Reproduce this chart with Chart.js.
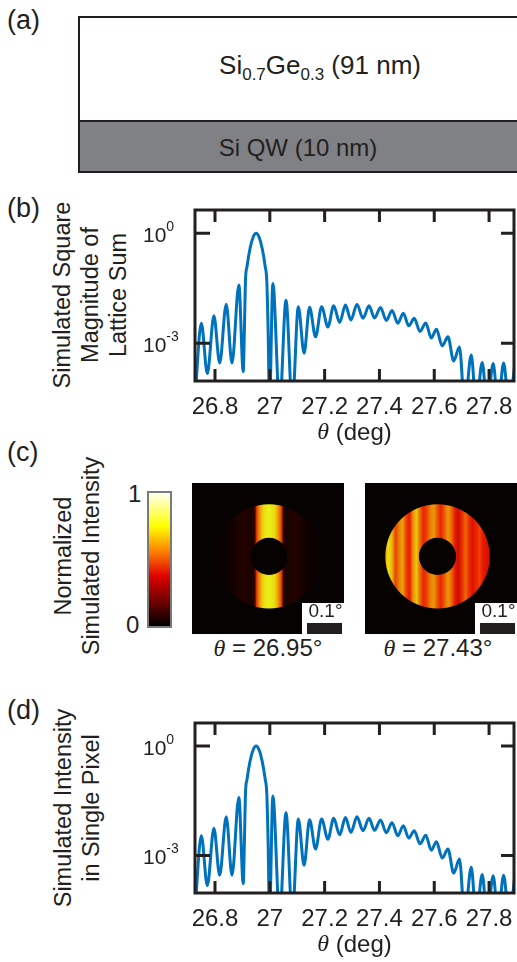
<!DOCTYPE html>
<html>
<head>
<meta charset="utf-8">
<script src="https://cdn.jsdelivr.net/npm/chart.js@4.4.0/dist/chart.umd.min.js"></script>
<style>
body { margin: 0; width: 517px; height: 962px; position: relative; overflow: hidden; background: #fff;
       font-family: "Liberation Sans", Arial, sans-serif; color: #231f20; }
.abs { position: absolute; }
.plab { position: absolute; font-size: 27px; line-height: 30px; }
.ylab { position: absolute; transform: rotate(-90deg); text-align: center; white-space: nowrap;
        font-size: 23.5px; line-height: 28px; }
.th { font-family: "Liberation Serif", serif; font-style: italic; }
.center { position: absolute; text-align: center; white-space: nowrap; }
sub { font-size: 17px; vertical-align: -6px; line-height: 0; }
</style>
</head>
<body>

<!-- (a) layer stack -->
<div class="plab" style="left:7px;top:5px">(a)</div>
<div class="abs" style="left:78px;top:16px;width:470px;height:153px;border:2px solid #231f20;">
  <div style="height:102px;border-bottom:2px solid #231f20;background:#fff"></div>
  <div style="height:49px;background:#808184"></div>
</div>
<div class="center" style="left:170px;width:300px;top:51px;font-size:26px;line-height:28px">Si<sub>0.7</sub>Ge<sub>0.3</sub> (91 nm)</div>
<div class="center" style="left:148px;width:300px;top:134px;font-size:24px;line-height:28px">Si QW (10 nm)</div>

<!-- (b) -->
<div class="plab" style="left:7px;top:193px">(b)</div>
<div class="ylab" style="left:-40px;top:253px;width:260px;height:84px">Simulated Square<br>Magnitude of<br>Lattice Sum</div>
<canvas id="chartB" class="abs" style="left:130px;top:195px" width="387" height="250"></canvas>

<!-- (c) -->
<div class="plab" style="left:7px;top:437px">(c)</div>
<div class="ylab" style="left:-53px;top:528px;width:260px;height:56px">Normalized<br>Simulated Intensity</div>
<div class="abs" style="left:128px;top:480px;font-size:24px">1</div>
<div class="abs" style="left:126px;top:611px;font-size:24px">0</div>
<div class="abs" style="left:147px;top:491px;width:21px;height:133px;border:2px solid #7a7a7a;
  background:linear-gradient(to top,#000 0%,#e00000 37.5%,#ff8000 56%,#ffff00 75%,#fffff0 100%)"></div>
<canvas id="img1" class="abs" style="left:192px;top:483px" width="152" height="151"></canvas>
<canvas id="img2" class="abs" style="left:365px;top:483px" width="152" height="151"></canvas>
<div class="center" style="left:168px;width:200px;top:634px;font-size:24px"><span class="th">θ</span> = 26.95°</div>
<div class="center" style="left:338px;width:200px;top:634px;font-size:24px"><span class="th">θ</span> = 27.43°</div>

<!-- (d) -->
<div class="plab" style="left:7px;top:695px">(d)</div>
<div class="ylab" style="left:-53px;top:780px;width:260px;height:56px">Simulated Intensity<br>in Single Pixel</div>
<canvas id="chartD" class="abs" style="left:130px;top:708px" width="387" height="254"></canvas>

<script>
// simulated curve; panel (d) shows the same curve
const theta = [26.727, 26.750, 26.772, 26.796, 26.817, 26.841, 26.862, 26.887, 26.903,
  26.907, 26.911, 26.917, 26.928, 26.939, 26.950, 26.961, 26.972, 26.983, 26.989, 26.994,
  26.999, 27.011, 27.036, 27.059, 27.082, 27.104, 27.125, 27.145, 27.167,
  27.189, 27.212, 27.233, 27.255, 27.276, 27.296, 27.318, 27.340, 27.362, 27.382, 27.404, 27.425,
  27.446, 27.467, 27.487, 27.507, 27.527, 27.548, 27.569, 27.589, 27.608, 27.629, 27.650, 27.671,
  27.692, 27.711, 27.735, 27.753, 27.775, 27.793, 27.815, 27.833, 27.853, 27.873, 27.895];
const latticeSum = [3e-5, 3.5e-3, 1.5e-4, 5.6e-3, 2.9e-4, 1.16e-2, 2.9e-4, 3.9e-2, 1.7e-4,
  1.9e-3, 4.9e-2, 0.126, 0.39, 0.78, 1.0, 0.78, 0.39, 0.126, 4.9e-2, 1.9e-3,
  2e-5, 4.3e-2, 2e-5, 1.5e-2, 2e-5, 1.0e-2, 5.4e-4, 9.6e-3, 1.5e-3,
  1.0e-2, 2.8e-3, 1.05e-2, 3.7e-3, 1.1e-2, 4.3e-3, 1.15e-2, 4.8e-3, 1.05e-2, 4.9e-3, 9.5e-3, 4.2e-3,
  7.9e-3, 3.5e-3, 6.6e-3, 3.0e-3, 4.8e-3, 2.1e-3, 3.6e-3, 1.4e-3, 2.4e-3, 8.5e-4, 1.5e-3, 3.3e-4,
  8.0e-4, 2e-5, 4.8e-4, 2e-5, 3.0e-4, 2e-5, 2.8e-4, 2e-5, 2.9e-4, 2e-5, 3.1e-4];
const singlePixel = latticeSum;

const xTicks = [26.8, 27, 27.2, 27.4, 27.6, 27.8];
const xTickLabels = ['26.8', '27', '27.2', '27.4', '27.6', '27.8'];
const yTicks = [1, 1e-3];
const yTickExp = ['0', '-3'];

// detector images: horizontal stripe profile (offset in deg from ring centre), normalized intensity
const pos2695 = [-0.15, -0.12, -0.10, -0.085, -0.07, -0.055, -0.045, -0.04, -0.035, -0.025, -0.015, 0,
  0.015, 0.025, 0.035, 0.04, 0.045, 0.055, 0.07, 0.085, 0.10, 0.12, 0.15];
const stripe2695 = [0.01, 0.02, 0.03, 0.05, 0.055, 0.045, 0.04, 0.12, 0.45, 0.62, 0.72, 0.76,
  0.72, 0.62, 0.45, 0.12, 0.04, 0.045, 0.055, 0.05, 0.03, 0.02, 0.01];
const pos2743 = [-0.15, -0.14, -0.13, -0.12, -0.11, -0.10, -0.09, -0.08, -0.07, -0.06, -0.05, -0.04,
  -0.03, -0.02, -0.01, 0, 0.01, 0.02, 0.03, 0.04, 0.05, 0.06, 0.07, 0.08, 0.09, 0.10, 0.11, 0.12,
  0.13, 0.14, 0.15];
const stripe2743 = [0.62, 0.72, 0.65, 0.45, 0.55, 0.62, 0.46, 0.38, 0.58, 0.68, 0.52, 0.40,
  0.46, 0.56, 0.60, 0.48, 0.40, 0.50, 0.60, 0.52, 0.38, 0.32, 0.42, 0.52, 0.42, 0.35, 0.40, 0.45,
  0.38, 0.35, 0.35];

const ink = '#231f20';

function hot(t) {
  t = Math.max(0, Math.min(1, t));
  const r = Math.min(1, t / 0.375);
  const g = Math.max(0, Math.min(1, (t - 0.375) / 0.375));
  const b = Math.max(0, (t - 0.75) / 0.25);
  return 'rgb(' + Math.round(r * 235) + ',' + Math.round(g * 240 + (r - g) * 20) + ',' + Math.round(b * 240 + g * 15) + ')';
}

const framePlugin = {
  id: 'frame',
  afterDatasetsDraw(chart) {
    const ctx = chart.ctx;
    const a = chart.chartArea;
    const x = chart.scales.x, y = chart.scales.y;
    ctx.save();
    ctx.strokeStyle = ink;
    ctx.fillStyle = ink;
    ctx.lineWidth = 3;
    ctx.strokeRect(a.left, a.top, a.right - a.left, a.bottom - a.top);
    ctx.font = '24px "Liberation Sans", Arial';
    ctx.textAlign = 'center';
    ctx.textBaseline = 'middle';
    xTicks.forEach(function(v, i) {
      const px = x.getPixelForValue(v);
      ctx.beginPath();
      ctx.moveTo(px, a.bottom); ctx.lineTo(px, a.bottom - 12);
      ctx.moveTo(px, a.top); ctx.lineTo(px, a.top + 12);
      ctx.stroke();
      ctx.fillText(xTickLabels[i], px, a.bottom + 26);
    });
    yTicks.forEach(function(v, i) {
      const py = y.getPixelForValue(v);
      ctx.beginPath();
      ctx.moveTo(a.left, py); ctx.lineTo(a.left + 15, py);
      ctx.moveTo(a.right, py); ctx.lineTo(a.right - 13, py);
      ctx.stroke();
      ctx.textAlign = 'left';
      ctx.font = '21px "Liberation Sans", Arial';
      ctx.fillText('10', a.left - 52, py + 3);
      const w = ctx.measureText('10').width;
      ctx.font = '14px "Liberation Sans", Arial';
      ctx.fillText(yTickExp[i], a.left - 52 + w, py - 6);
    });
    // axis title
    ctx.font = 'italic 24px "Liberation Serif", serif';
    const wt = ctx.measureText('θ').width;
    ctx.font = '24px "Liberation Sans", Arial';
    const wd = ctx.measureText(' (deg)').width;
    const x0 = (a.left + a.right) / 2 - (wt + wd) / 2;
    ctx.textAlign = 'left';
    ctx.font = 'italic 24px "Liberation Serif", serif';
    ctx.fillText('θ', x0, a.bottom + 52);
    ctx.font = '24px "Liberation Sans", Arial';
    ctx.fillText(' (deg)', x0 + wt, a.bottom + 52);
    ctx.restore();
  }
};

function curveChart(id, values, pad) {
  new Chart(document.getElementById(id), {
    type: 'line',
    data: {
      datasets: [{
        data: theta.map(function(t, i) { return {x: t, y: values[i]}; }),
        borderColor: '#0072bd',
        borderWidth: 3,
        pointRadius: 0,
        cubicInterpolationMode: 'monotone'
      }]
    },
    options: {
      responsive: false,
      animation: false,
      layout: {padding: pad},
      plugins: {legend: {display: false}, tooltip: {enabled: false}},
      scales: {
        x: {type: 'linear', min: 26.727, max: 27.891, display: false},
        y: {type: 'logarithmic', min: 9.4e-5, max: 4.3, display: false}
      }
    },
    plugins: [framePlugin]
  });
}

curveChart('chartB', latticeSum, {left: 65, right: 3, top: 15, bottom: 64});
curveChart('chartD', singlePixel, {left: 65, right: 3, top: 15, bottom: 69});

// ring images
const ringPlugin = {
  id: 'ring',
  beforeDatasetsDraw(chart, args, opts) {
    const ctx = chart.ctx;
    const a = chart.chartArea;
    const x = chart.scales.x, y = chart.scales.y;
    ctx.save();
    ctx.fillStyle = '#070202';
    ctx.fillRect(a.left, a.top, a.right - a.left, a.bottom - a.top);
    const cx = x.getPixelForValue(opts.cx), cy = y.getPixelForValue(opts.cy);
    const rOut = x.getPixelForValue(opts.rOut) - x.getPixelForValue(0);
    const rIn = x.getPixelForValue(opts.rIn) - x.getPixelForValue(0);
    ctx.beginPath();
    ctx.arc(cx, cy, rOut, 0, Math.PI * 2);
    ctx.arc(cx, cy, rIn, 0, Math.PI * 2, true);
    ctx.clip();
    const pos = opts.pos;
    const p0 = x.getPixelForValue(opts.cx + pos[0]);
    const p1 = x.getPixelForValue(opts.cx + pos[pos.length - 1]);
    const grad = ctx.createLinearGradient(p0, 0, p1, 0);
    pos.forEach(function(s, i) {
      grad.addColorStop((x.getPixelForValue(opts.cx + s) - p0) / (p1 - p0), hot(opts.profile[i]));
    });
    ctx.fillStyle = grad;
    ctx.fillRect(a.left, a.top, a.right - a.left, a.bottom - a.top);
    ctx.restore();
    // scale bar 0.1 deg
    ctx.save();
    const bx1 = x.getPixelForValue(x.max) - 2;
    const bx0 = bx1 - (x.getPixelForValue(0.1) - x.getPixelForValue(0));
    ctx.fillStyle = '#fff';
    ctx.fillRect(bx0 - 5, a.bottom - 31, bx1 - bx0 + 7, 31);
    ctx.fillStyle = '#231f20';
    ctx.fillRect(bx0, a.bottom - 11, bx1 - bx0, 11);
    ctx.font = '19px "Liberation Sans", Arial';
    ctx.textAlign = 'center';
    ctx.textBaseline = 'middle';
    ctx.fillText('0.1°', (bx0 + bx1) / 2 + 1, a.bottom - 22);
    ctx.restore();
  }
};

function ringChart(id, pos, profile, cx) {
  new Chart(document.getElementById(id), {
    type: 'scatter',
    data: {datasets: [{data: []}]},
    options: {
      responsive: false,
      animation: false,
      layout: {padding: 0},
      plugins: {legend: {display: false}, tooltip: {enabled: false},
                ring: {pos: pos, profile: profile, cx: cx, cy: 0.006, rOut: 0.149, rIn: 0.053}},
      scales: {
        x: {type: 'linear', min: -0.217, max: 0.217, display: false},
        y: {type: 'linear', min: -0.216, max: 0.216, display: false}
      }
    },
    plugins: [ringPlugin]
  });
}

ringChart('img1', pos2695, stripe2695, 0.003);
ringChart('img2', pos2743, stripe2743, -0.01);
</script>
</body>
</html>
